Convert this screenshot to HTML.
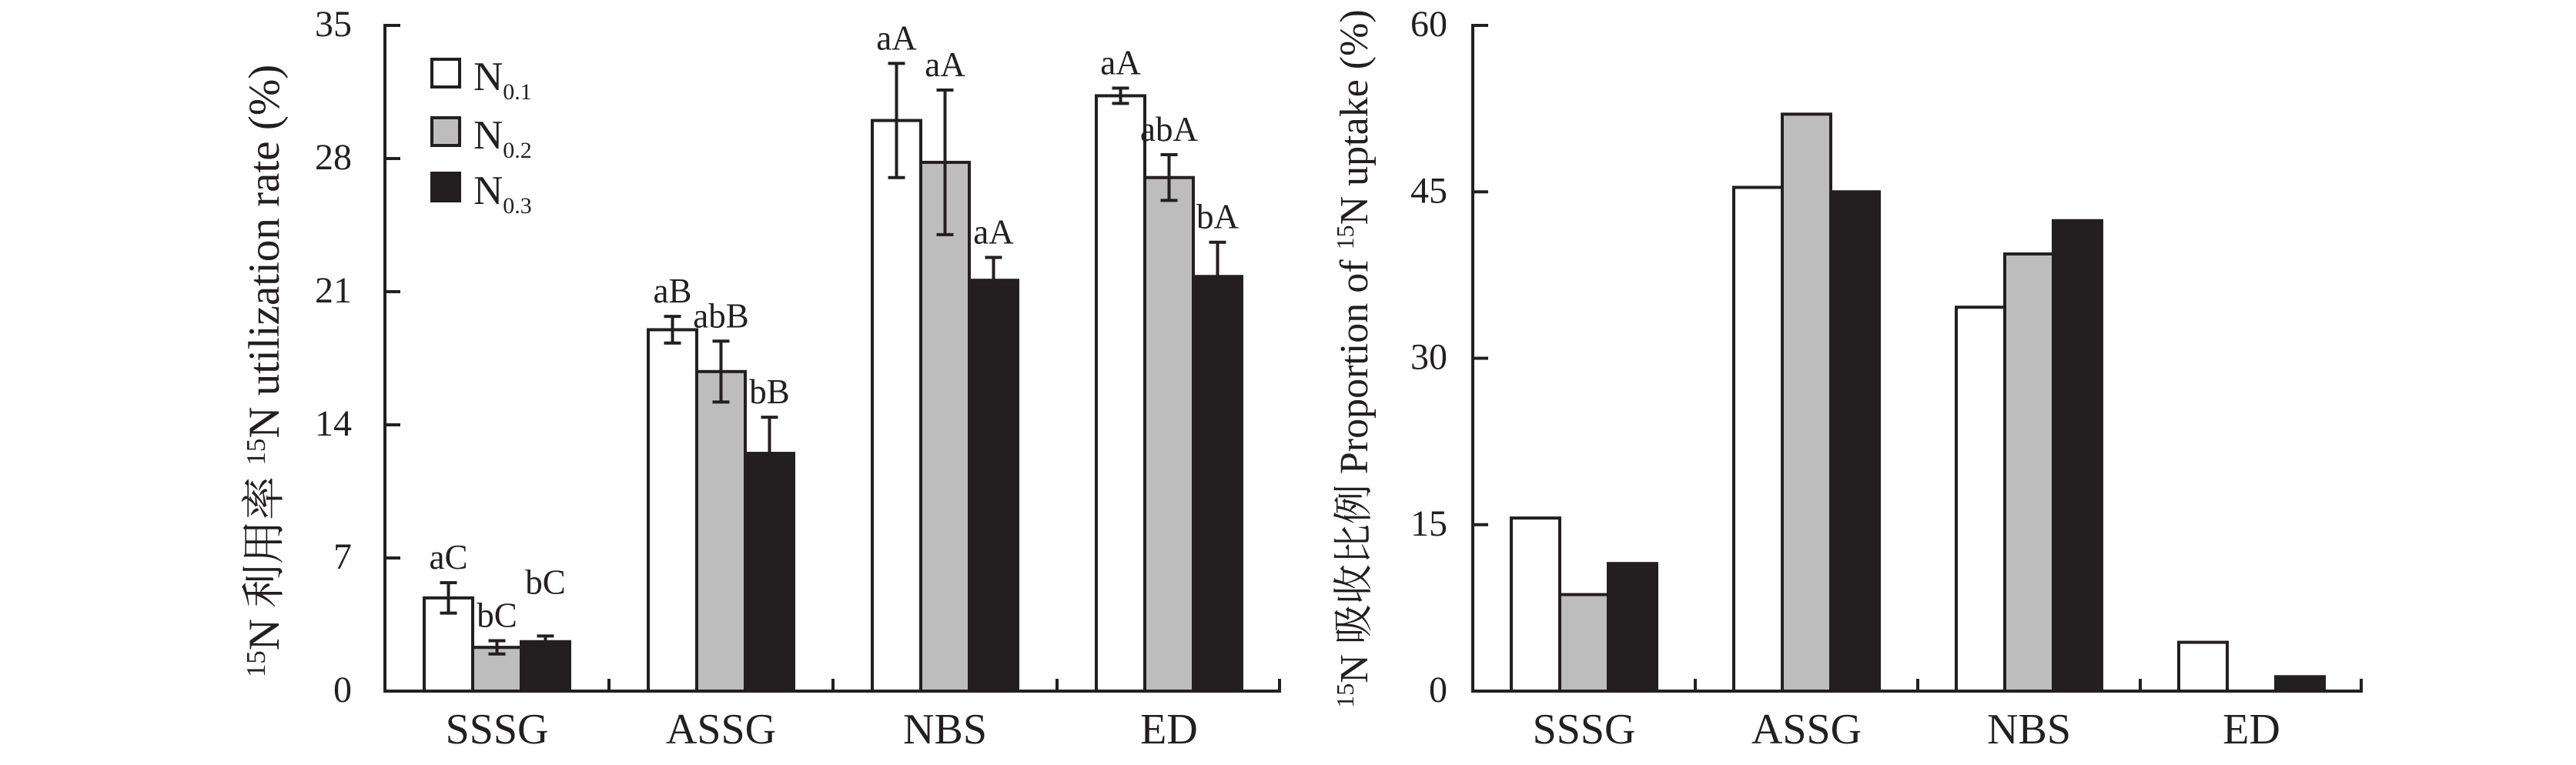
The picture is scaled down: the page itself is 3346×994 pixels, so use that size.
<!DOCTYPE html>
<html><head><meta charset="utf-8"><style>
html,body{margin:0;padding:0;background:#fff;}
svg{display:block;font-family:"Liberation Serif","Noto Serif CJK SC",serif;}
</style></head><body>
<svg id="chart" width="3346" height="994" viewBox="0 0 3346 994" xmlns="http://www.w3.org/2000/svg"></svg>
<script>
const categories = ["SSSG","ASSG","NBS","ED"];
const seriesNames = ["0.1","0.2","0.3"];
const utilN1 = [4.9, 19.0, 30.0, 31.3];
const utilN2 = [2.3, 16.8, 27.8, 27.0];
const utilN3 = [2.6, 12.5, 21.6, 21.8];
const errN1 = [0.8, 0.7, 3.0, 0.4];
const errN2 = [0.35, 1.6, 3.8, 1.2];
const errN3 = [0.3, 1.9, 1.2, 1.8];
const letN1 = ["aC","aB","aA","aA"];
const letN2 = ["bC","abB","aA","abA"];
const letN3 = ["bC","bB","aA","bA"];
const leftTicks = [0,7,14,21,28,35];
const propN1 = [15.6, 45.4, 34.6, 4.4];
const propN2 = [8.7, 52.0, 39.4, 0];
const propN3 = [11.5, 45.0, 42.4, 1.3];
const rightTicks = [0,15,30,45,60];

const svg = document.getElementById('chart');
const NS = "http://www.w3.org/2000/svg";
function mk(tag, attrs, parent){
  const e = document.createElementNS(NS, tag);
  for (const k in attrs) e.setAttribute(k, attrs[k]);
  (parent||svg).appendChild(e);
  return e;
}
function ctext(x, y, str, size, anchor, parent){
  const t = mk('text', {x: x, y: y, 'text-anchor': anchor, 'font-size': size, fill: "#231f20"}, parent);
  t.textContent = str;
  return t;
}
const fills = ["#ffffff","#bdbdbd","#231f20"];
const Y0 = 898, YTOP = 33, BW = 63;

function drawPanel(opt){
  const g = mk('g', {});
  
  
  const x0 = opt.x0, x1 = opt.x1, max = opt.max;
  const y = v => Y0 - (v / max) * (Y0 - YTOP);
  const gw = (x1 - x0) / categories.length;
  const bx = (ci, si) => x0 + ci * gw + (gw - 3 * BW) / 2 + si * BW;
  opt.series.forEach((vals, si) => {
    vals.forEach((v, ci) => {
      if (v <= 0) return;
      const r = mk('rect', {x: bx(ci, si), y: y(v), width: BW, height: Y0 - y(v), fill: fills[si], stroke: "#231f20", 'stroke-width': 4}, g);
      
      
      if (opt.errs) {
        const e = opt.errs[si][ci];
        const cx = bx(ci, si) + BW / 2;
        const eg = mk('g', {stroke: "#231f20", 'stroke-width': 4}, g);
        
        
        mk('line', {x1: cx, x2: cx, y1: y(v + e), y2: y(v - e)}, eg);
        mk('line', {x1: cx - 11, x2: cx + 11, y1: y(v + e), y2: y(v + e)}, eg);
        mk('line', {x1: cx - 11, x2: cx + 11, y1: y(v - e), y2: y(v - e)}, eg);
        let ty = y(v + e) - 18;
        if (ci === 0 && si === 2) ty -= 37;
        const t = ctext(cx, ty, opt.letters[si][ci], 45, 'middle', g);
        
        
      }
    });
  });
  const ax = mk('g', {stroke: "#231f20", 'stroke-width': 4, fill: "none"}, g);
  
  
  mk('line', {x1: x0, x2: x0, y1: YTOP - 2, y2: Y0 + 2}, ax);
  mk('line', {x1: x0 - 2, x2: x1, y1: Y0, y2: Y0}, ax);
  for (let i = 1; i <= categories.length; i++) {
    const xx = x0 + i * gw - (i === categories.length ? 2 : 0);
    mk('line', {x1: xx, x2: xx, y1: Y0, y2: Y0 - 16}, ax);
  }
  opt.ticks.forEach(tv => {
    mk('line', {x1: x0, x2: x0 + 20, y1: y(tv), y2: y(tv)}, ax);
    const t = ctext(x0 - opt.labGap, y(tv) + 14, String(tv), 48, 'end', g);
    
    
  });
  categories.forEach((c, ci) => {
    const t = ctext(x0 + ci * gw + gw / 2, 966, c, 56, 'middle', g);
    
    
  });
  const tt = mk('text', {x: 0, y: 0, 'text-anchor': 'middle', 'font-size': opt.titleSize, fill: "#231f20",
    transform: 'translate(' + opt.titleX + ',' + opt.titleY + ') rotate(-90)'}, g);
  
  
  opt.title.forEach(p => {
    const s = mk('tspan', p[1] ? {'font-size': Math.round(opt.titleSize * 0.62), dy: -18} : {dy: p[2] ? 18 : 0}, tt);
    s.textContent = p[0];
  });
  return g;
}

drawPanel({name:'utilization-chart', x0:500, x1:1664, max:35, ticks:leftTicks, labGap:43,
  series:[utilN1,utilN2,utilN3], errs:[errN1,errN2,errN3], letters:[letN1,letN2,letN3],
  titleX:362, titleY:482, titleSize:57,
  title:[['15',true],['N 利用率 ',false,true],['15',true],['N utilization rate (%)',false,true]]});
drawPanel({name:'uptake-proportion-chart', x0:1913, x1:3069, max:60, ticks:rightTicks, labGap:33,
  series:[propN1,propN2,propN3], titleX:1776, titleY:466, titleSize:52,
  title:[['15',true],['N 吸收比例 Proportion of ',false,true],['15',true],['N uptake (%)',false,true]]});

const lg = mk('g', {});


[77, 153, 225].forEach((ty, i) => {
  const r = mk('rect', {x: 561, y: ty, width: 36, height: 36, fill: fills[i], stroke: "#231f20", 'stroke-width': 4}, lg);
  
  
  const t = mk('text', {x: 615, y: ty + 40, 'font-size': 53, fill: "#231f20"}, lg);
  
  
  const a = mk('tspan', {}, t); a.textContent = 'N';
  const b = mk('tspan', {'font-size': 30, dy: 12}, t); b.textContent = seriesNames[i];
});
</script>
</body></html>
